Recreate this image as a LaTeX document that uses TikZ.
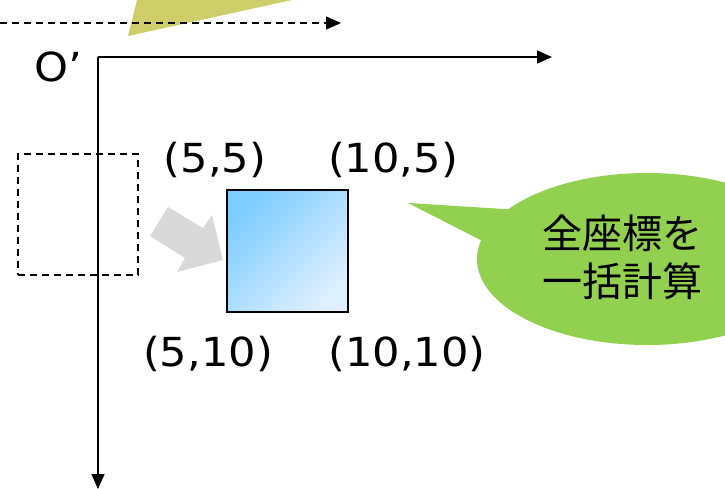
\documentclass[tikz,border=0pt]{standalone}
\usepackage{fontspec}
\setmainfont{DejaVu Sans}[FakeStretch=1.08]
\newfontfamily\cjk{Noto Sans CJK JP}
\usetikzlibrary{arrows.meta}
\definecolor{pointerOlive}{RGB}{205,205,105}
\definecolor{calloutGreen}{RGB}{146,208,80}
\definecolor{moveGray}{RGB}{217,217,217}
\definecolor{boxBlueA}{RGB}{125,205,255}
\definecolor{boxBlueB}{RGB}{222,239,255}
\begin{document}
\begin{tikzpicture}[x=1pt,y=-1pt,
  axisline/.style={line width=1.5pt,-{Triangle[length=15pt,width=13pt]}},
  dashline/.style={line width=1.4pt,dash pattern=on 7pt off 5pt},
  lbl/.style={font=\fontsize{40}{48}\selectfont,inner sep=0pt,anchor=center},
  cjklbl/.style={font=\cjk\fontsize{40}{48}\selectfont,inner sep=0pt,align=center}]
\useasboundingbox (0,0) rectangle (725,489);
% olive pointer from above
\fill[pointerOlive] (128,36) -- (137,0) -- (292,0) -- cycle;
% dashed old x axis
\coordinate (d0) at (0,23);
\coordinate (d1) at (341,23);
\draw[axisline,dashline] (d0) -- (d1);
% axes
\coordinate (O) at (98,57);
\coordinate (X) at (552,57);
\coordinate (Y) at (98,489);
\draw[axisline] (O) -- (X);
\draw[axisline] (O) -- (Y);
\node[lbl] (olabel) at (58,67) {O’};
% dashed old box
\node[draw,dashline,minimum width=120pt,minimum height=121pt,inner sep=0pt] (oldbox) at (78,214.5) {};
% gray move arrow
\fill[moveGray] (168,207) -- (203,228) -- (212,215) -- (223,260) -- (177,272) -- (185,258) -- (150,236) -- cycle;
% blue box
\node[draw,line width=1.5pt,minimum width=121pt,minimum height=122pt,inner sep=0pt,
  top color=boxBlueA,bottom color=boxBlueB,shading angle=45] (newbox) at (287.5,251) {};
% corner labels
\node[lbl] (tl) at (215,160) {(5,5)};
\node[lbl] (tr) at (393,160) {(10,5)};
\node[lbl] (bl) at (208,354) {(5,10)};
\node[lbl] (br) at (407,354) {(10,10)};
% callout
\fill[calloutGreen] (647,259) ellipse [x radius=170pt, y radius=86pt];
\fill[calloutGreen] (408,203) -- (520,210) -- (500,250) -- cycle;
\node[cjklbl] (calc) at (622,257) {全座標を\\一括計算};
\end{tikzpicture}
\end{document}
